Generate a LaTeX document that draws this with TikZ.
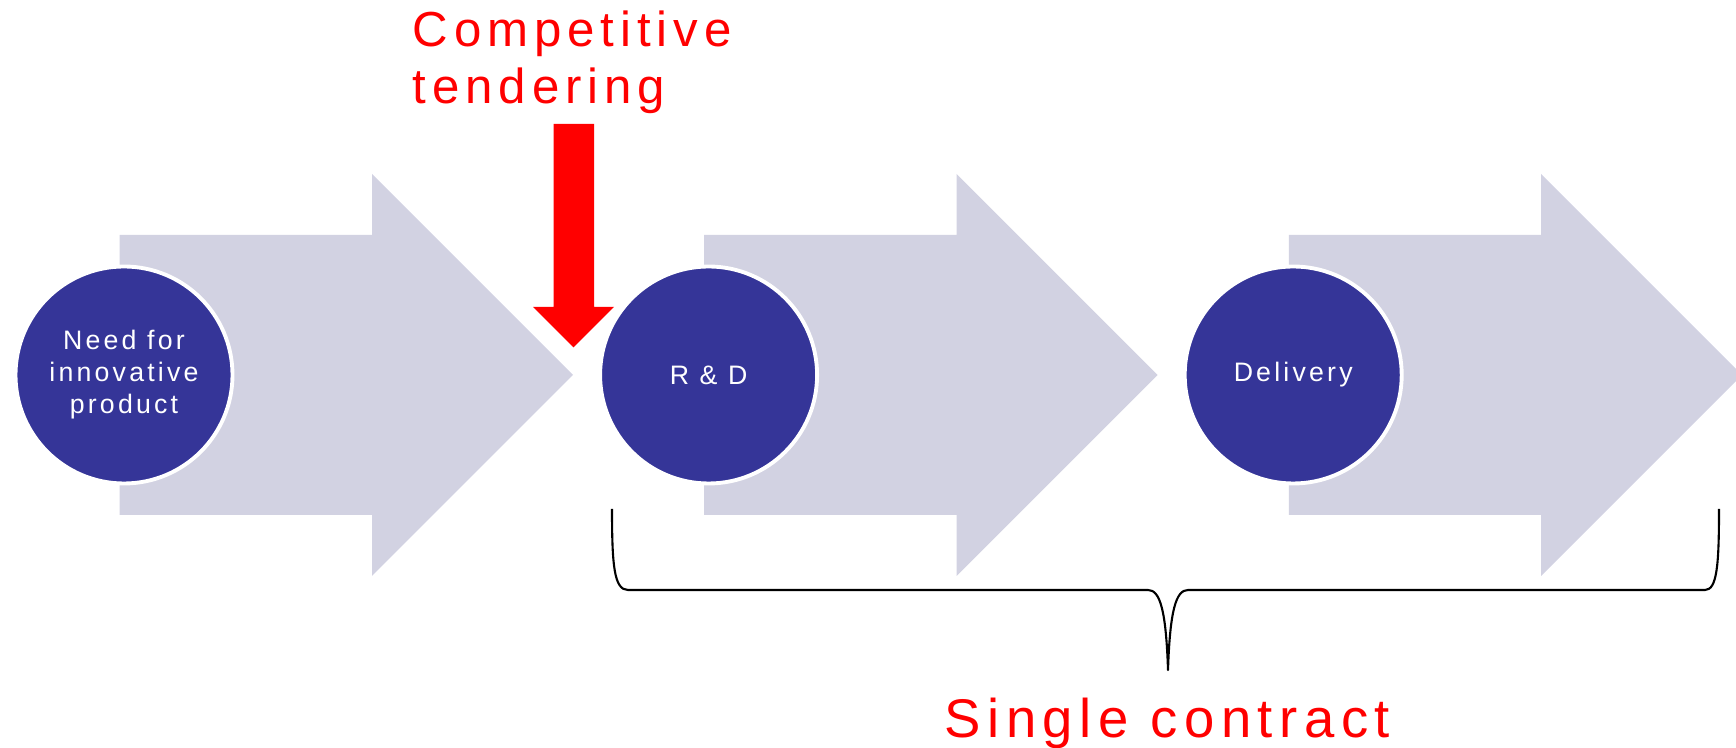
\documentclass[tikz,border=0pt]{standalone}
\usepackage{fontspec}
\setmainfont{Liberation Sans}
\newfontfamily\lsfont[LetterSpace=12]{Liberation Sans}
\definecolor{chevgray}{RGB}{210,210,226}
\definecolor{discblue}{RGB}{53,53,152}
\definecolor{pureRed}{RGB}{255,0,0}
\begin{document}
\begin{tikzpicture}[x=0.1mm,y=-0.1mm,
  chevron/.style={fill=chevgray,draw=none},
  stage/.style={circle,fill=discblue,draw=white,line width=1.1pt,minimum size=21.7mm,inner sep=0pt,text=white,align=center,font=\lsfont\fontsize{7.6}{9.1}\selectfont},
  redlabel/.style={text=pureRed,inner sep=0pt,align=left},
  bracepath/.style={draw=black,line width=0.6pt,line join=round}]
\useasboundingbox (0,0) rectangle (1736,748);
% chevrons
\foreach \dx in {0,584.6,1169.2}{
  \fill[chevron] (119.6+\dx,235) -- (372+\dx,235) -- (372+\dx,174) -- (573+\dx,375) -- (372+\dx,576) -- (372+\dx,515) -- (119.6+\dx,515) -- cycle;
}
% stages
\node[stage] (need) at (124,375) {Need for\\innovative\\product};
\node[stage] (rd) at (708.6,375) {R \& D};
\node[stage] (del) at (1293.2,375) {Delivery};
% competitive tendering
\node[redlabel,anchor=north west,font=\lsfont\fontsize{14}{16.3}\selectfont] (tender) at (412,10) {Competitive\\tendering};
\fill[pureRed] (553.5,124) -- (594,124) -- (594,307) -- (614,307) -- (573.5,347.5) -- (533,307) -- (553.5,307) -- cycle;
% brace
\coordinate (bl) at (612,509);
\coordinate (br) at (1719,509);
\coordinate (bm) at (1168,670);
\draw[bracepath] (bl) .. controls (612,565) and (614,590) .. (628,590) -- (1148,590)
  .. controls (1160,590) and (1166,610) .. (bm)
  .. controls (1170,610) and (1176,590) .. (1188,590) -- (1705,590)
  .. controls (1717,590) and (1719,565) .. (br);
\node[redlabel,anchor=base west,font=\lsfont\fontsize{15.5}{19}\selectfont] (single) at (944,738) {Single contract};
\end{tikzpicture}
\end{document}
